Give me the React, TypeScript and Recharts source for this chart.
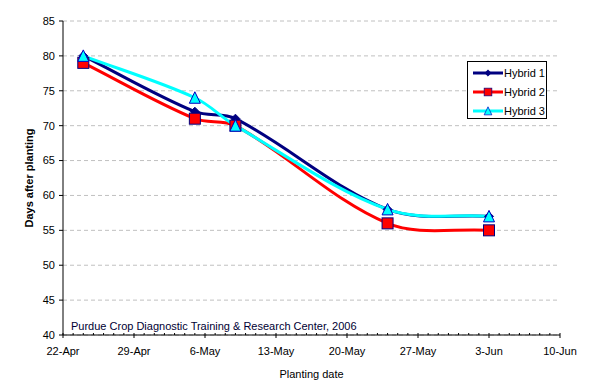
import { CartesianGrid, Legend, Line, LineChart, XAxis, YAxis } from "recharts";

const plantingDates = ["24-Apr", "5-May", "9-May", "24-May", "3-Jun"];
const hybrid1 = [80, 72, 71, 58, 57];
const hybrid2 = [79, 71, 70, 56, 55];
const hybrid3 = [80, 74, 70, 58, 57];
const dateTicks = ["22-Apr", "29-Apr", "6-May", "13-May", "20-May", "27-May", "3-Jun", "10-Jun"];
const yTicks = [40, 45, 50, 55, 60, 65, 70, 75, 80, 85];

const FONT = "'Liberation Sans', Arial, sans-serif";
const NAVY = "#000080";
const RED = "#ff0000";
const CYAN = "#00ffff";

// days since 22-Apr
const monthStart: Record<string, number> = { Apr: -22, May: 8, Jun: 39 };
const toDay = (s: string) => {
  const [d, m] = s.split("-");
  return Number(d) + monthStart[m];
};

const data = plantingDates.map((date, i) => ({
  date,
  day: toDay(date),
  h1: hybrid1[i],
  h2: hybrid2[i],
  h3: hybrid3[i],
}));

const lastDay = toDay(dateTicks[dateTicks.length - 1]);
const allDays = Array.from({ length: lastDay + 1 }, (_, i) => i);
const majorLabels: Record<number, string> = {};
dateTicks.forEach((t) => (majorLabels[toDay(t)] = t));

// smoothed line like a spreadsheet "smoothed line": bezier with tangents
// scaled to the length of each segment so short segments don't loop
function smoothCurve(context: any) {
  let pts: number[][] = [];
  const dist = (a: number[], b: number[]) => Math.hypot(b[0] - a[0], b[1] - a[1]);
  return {
    areaStart() {},
    areaEnd() {},
    lineStart() {
      pts = [];
    },
    point(x: number, y: number) {
      pts.push([+x, +y]);
    },
    lineEnd() {
      if (!pts.length) return;
      context.moveTo(pts[0][0], pts[0][1]);
      for (let i = 0; i < pts.length - 1; i++) {
        const p0 = pts[i - 1] || pts[i];
        const p1 = pts[i];
        const p2 = pts[i + 1];
        const p3 = pts[i + 2] || p2;
        const d01 = dist(p0, p1);
        const d12 = dist(p1, p2);
        const d23 = dist(p2, p3);
        const k1 = d12 / (d01 + d12 || 1) / 3;
        const k2 = d12 / (d12 + d23 || 1) / 3;
        context.bezierCurveTo(
          p1[0] + (p2[0] - p0[0]) * k1,
          p1[1] + (p2[1] - p0[1]) * k1,
          p2[0] - (p3[0] - p1[0]) * k2,
          p2[1] - (p3[1] - p1[1]) * k2,
          p2[0],
          p2[1]
        );
      }
    },
  };
}

const Diamond = ({ cx, cy }: any) => (
  <path d={`M${cx},${cy - 4.5}L${cx + 4.5},${cy}L${cx},${cy + 4.5}L${cx - 4.5},${cy}Z`} fill={NAVY} stroke={NAVY} />
);
const Square = ({ cx, cy }: any) => (
  <rect x={cx - 5.5} y={cy - 5.5} width={11} height={11} fill={RED} stroke={NAVY} strokeWidth={1} />
);
const Triangle = ({ cx, cy }: any) => (
  <path d={`M${cx},${cy - 6}L${cx + 5.5},${cy + 5.5}L${cx - 5.5},${cy + 5.5}Z`} fill={CYAN} stroke="#0000c0" strokeWidth={1} />
);

const series = [
  { key: "h1", name: "Hybrid 1", color: NAVY, Marker: Diamond },
  { key: "h2", name: "Hybrid 2", color: RED, Marker: Square },
  { key: "h3", name: "Hybrid 3", color: CYAN, Marker: Triangle },
];

const DateTick = ({ x, y, payload }: any) => {
  const label = majorLabels[payload.value];
  if (!label) {
    return <line x1={x} x2={x} y1={y - 2} y2={y} stroke="#000" />;
  }
  return (
    <g>
      <line x1={x} x2={x} y1={y - 2} y2={y + 3} stroke="#000" />
      <text x={x} y={y + 20} textAnchor="middle" fontSize={11} fontFamily={FONT} fill="#000">
        {label}
      </text>
    </g>
  );
};

const LegendBox = () => (
  <div
    style={{
      border: "1px solid #000",
      background: "#fff",
      width: 78,
      height: 55,
      boxSizing: "content-box",
      fontFamily: FONT,
      fontSize: 11,
      paddingTop: 1,
    }}
  >
    {series.map((s) => (
      <div key={s.key} style={{ display: "flex", alignItems: "center", height: 19 }}>
        <svg width={36} height={12} style={{ flex: "none" }}>
          <line x1={5} x2={35} y1={6} y2={6} stroke={s.color} strokeWidth={3} />
          <g transform="translate(20,6) scale(0.7) translate(-20,-6)">
            <s.Marker cx={20} cy={6} />
          </g>
        </svg>
        <span style={{ color: "#000" }}>{s.name}</span>
      </div>
    ))}
  </div>
);

export default function App() {
  return (
    <div style={{ position: "absolute", left: 0, top: 0, width: 596, height: 390, background: "#fff" }}>
      <LineChart width={596} height={390} data={data} margin={{ top: 21, right: 36, bottom: 0, left: 0 }}>
        <CartesianGrid vertical={false} stroke="#c0c0c0" strokeDasharray="4 3" />
        <XAxis
          dataKey="day"
          type="number"
          domain={[0, lastDay]}
          ticks={allDays}
          interval={0}
          height={55}
          tickSize={0}
          tickMargin={0}
          tickLine={false}
          axisLine={{ stroke: "#000" }}
          tick={(p: any) => <DateTick {...p} />}
          label={{
            value: "Planting date",
            position: "insideBottom",
            offset: 12,
            style: { fontSize: 11, fontFamily: FONT, fill: "#000" },
          }}
        />
        <YAxis
          domain={[40, 85]}
          ticks={yTicks}
          interval={0}
          width={63}
          tickSize={4}
          tickMargin={4}
          axisLine={{ stroke: "#000" }}
          tickLine={{ stroke: "#000" }}
          tick={{ fontSize: 11, fontFamily: FONT, fill: "#000" }}
          label={{
            value: "Days after planting",
            angle: -90,
            position: "center",
            dx: -2,
            style: { fontSize: 11, fontFamily: FONT, fontWeight: "bold", fill: "#000" },
          }}
        />
        <Legend
          layout="vertical"
          align="center"
          verticalAlign="middle"
          wrapperStyle={{ left: 467, top: 61, width: 80 }}
          content={() => <LegendBox />}
        />
        {series.map((s) => (
          <Line
            key={s.key}
            dataKey={s.key}
            name={s.name}
            type={smoothCurve as any}
            stroke={s.color}
            strokeWidth={3}
            dot={(p: any) => <s.Marker key={`${s.key}-${p.index}`} cx={p.cx} cy={p.cy} />}
            activeDot={false}
            isAnimationActive={false}
          />
        ))}
      </LineChart>
      <div
        style={{
          position: "absolute",
          left: 71,
          top: 321,
          fontFamily: FONT,
          fontSize: 11,
          lineHeight: "11px",
          color: "#000033",
          whiteSpace: "nowrap",
        }}
      >
        Purdue Crop Diagnostic Training &amp; Research Center, 2006
      </div>
    </div>
  );
}
